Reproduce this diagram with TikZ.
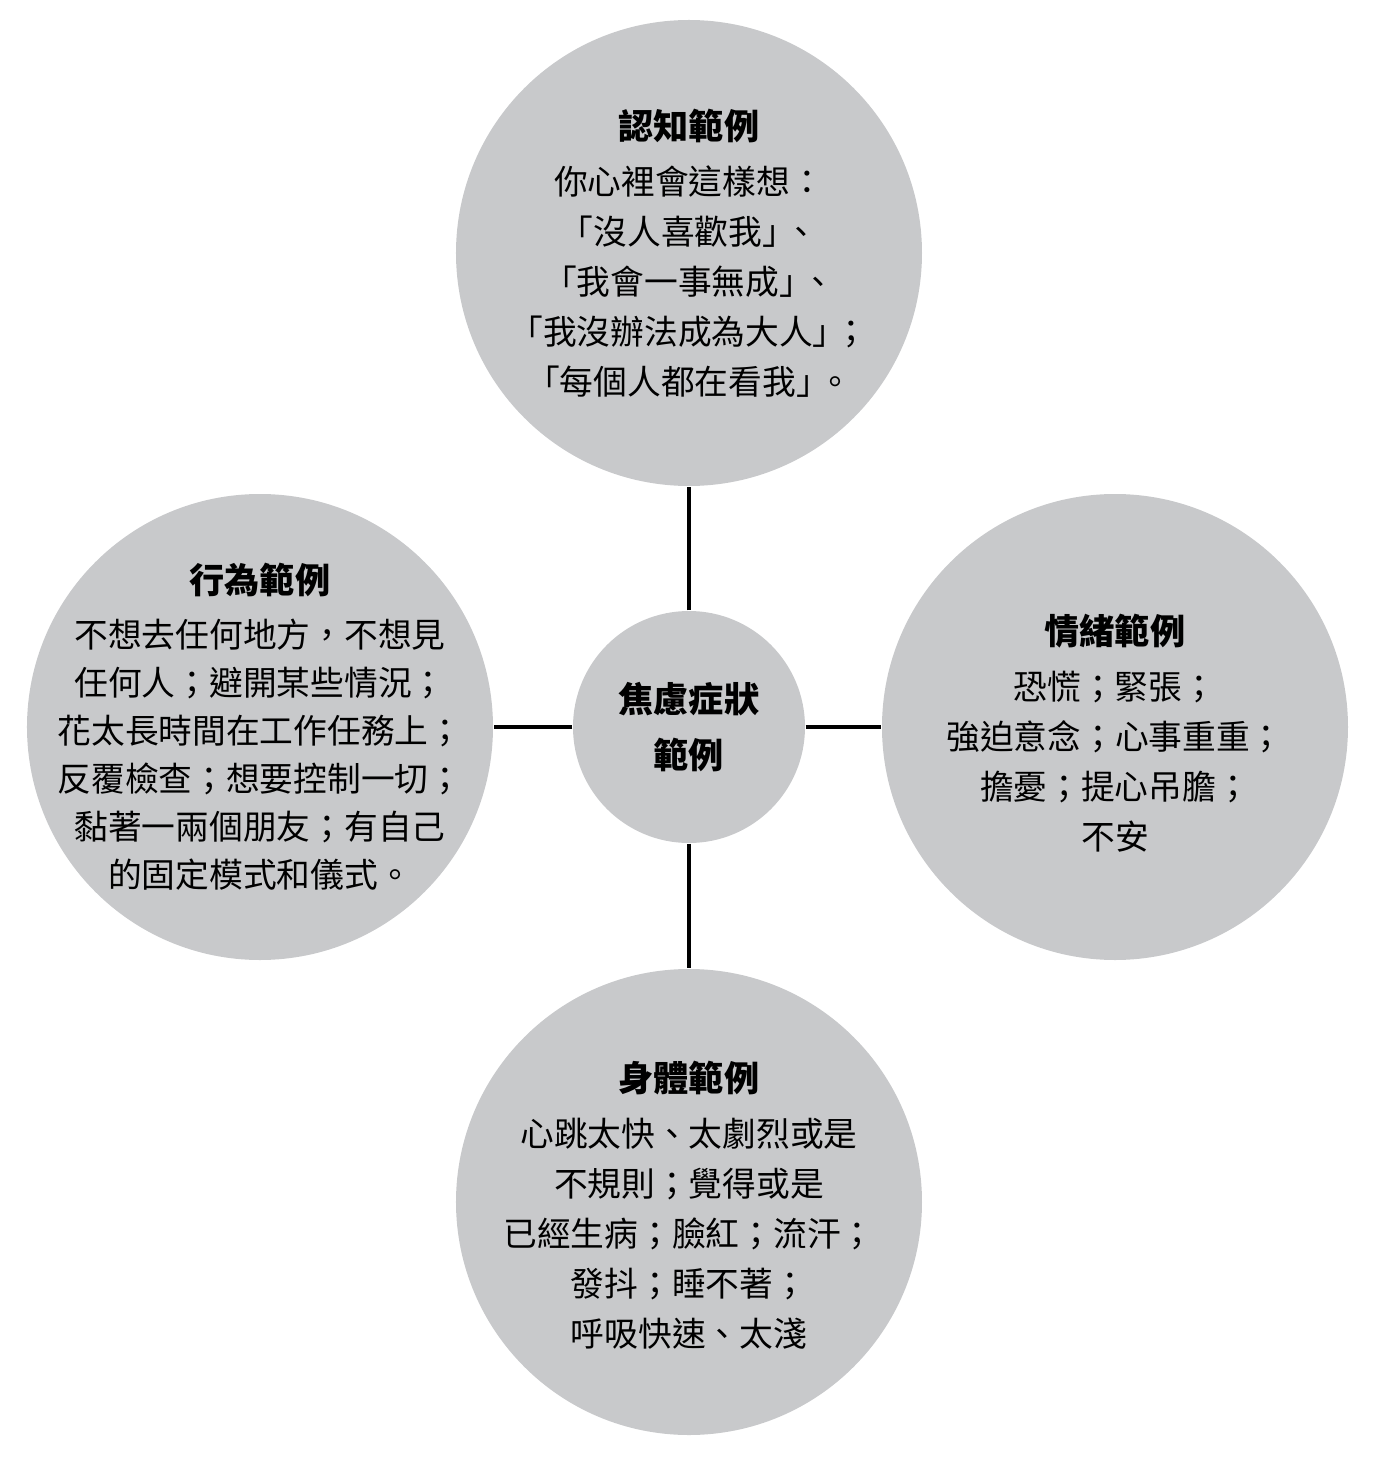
\documentclass[tikz,border=0pt]{standalone}
\usepackage{fontspec}
\setmainfont{Noto Sans CJK TC}
\usetikzlibrary{calc}
\definecolor{discgray}{RGB}{200,201,203}
\def\bigd{4.66cm}
\def\smalld{2.32cm}
\def\tight{\kern-.35em}
\tikzset{disc/.style={circle, fill=discgray, inner sep=0pt, minimum size=\bigd},
  disctext/.style={inner sep=0pt, align=center, font=\fontsize{9.6}{14.2}\selectfont},
  hub/.style={disc, minimum size=\smalld, align=center, font=\bfseries\fontsize{10}{16}\selectfont},
  link/.style={line width=1pt, black}}
\newcommand{\disctitle}[1]{{\bfseries\fontsize{10}{14.2}\selectfont #1}\\[0.05cm]}

\begin{document}
\begin{tikzpicture}
      \useasboundingbox (-6.89,-7.42) rectangle (6.87,7.27);
      % Circles
      \node[hub] (ctr) at (0,0) {焦慮症狀\\範例};
      \node[disc] (cog) at (0,4.74) {};
      \node[disc] (beh) at (-4.29,0) {};
      \node[disc] (emo) at (4.26,0) {};
      \node[disc] (phy) at (0,-4.75) {};
      % Texts
      \node[disctext] (cogtxt) at (cog) {\disctitle{認知範例}你心裡會這樣想：\\「沒人喜歡我」\tight 、\\「我會一事無成」\tight 、\\「我沒辦法成為大人」\tight ；\\「每個人都在看我」\tight 。};
      \node[disctext, font=\fontsize{9.6}{13.7}\selectfont] (behtxt) at (beh) {\disctitle{行為範例}不想去任何地方，不想見\\任何人；避開某些情況；\\花太長時間在工作任務上；\\反覆檢查；想要控制一切；\\黏著一兩個朋友；有自己\\的固定模式和儀式。};
      \node[disctext] (emotxt) at ($(emo)+(0,-0.06)$) {\disctitle{情緒範例}恐慌；緊張；\\強迫意念；心事重重；\\擔憂；提心吊膽；\\不安};
      \node[disctext] (phytxt) at ($(phy)+(0,-0.03)$) {\disctitle{身體範例}心跳太快、太劇烈或是\\不規則；覺得或是\\已經生病；臉紅；流汗；\\發抖；睡不著；\\呼吸快速、太淺};
      % Links
      \foreach \n in {cog,beh,emo,phy}
          \draw[link] (ctr) -- (\n);
      \end{tikzpicture}
\end{document}
